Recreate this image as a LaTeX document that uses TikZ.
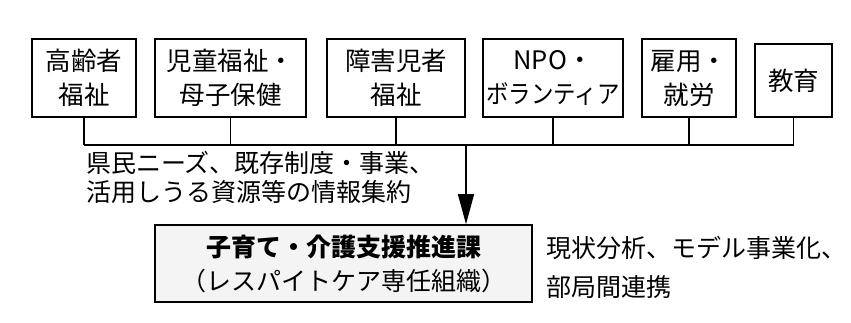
\documentclass[tikz,border=0pt]{standalone}
\usepackage{fontspec}
\setmainfont{Noto Sans CJK JP}
\usetikzlibrary{arrows.meta}
\begin{document}
\begin{tikzpicture}[x=1pt,y=-1pt,
  orgbox/.style={draw,line width=1.6pt,inner sep=0pt,minimum height=78pt,align=center,
    font=\fontsize{25.5}{34}\selectfont},
  wire/.style={line width=1.3pt},
  lbl/.style={anchor=west,inner sep=0pt,font=\fontsize{25}{30}\selectfont}]
\useasboundingbox (0,0) rectangle (851,322);
\node[orgbox,minimum width=104pt] (b1) at (84,78) {高齢者\\福祉};
\node[orgbox,minimum width=151pt] (b2) at (230.5,78) {児童福祉・\\母子保健};
\node[orgbox,minimum width=138pt] (b3) at (396,78) {障害児者\\福祉};
\node[orgbox,minimum width=140pt] (b4) at (553,78) {NPO・\\\scalebox{0.88}[1]{ボランティア}};
\node[orgbox,minimum width=94pt] (b5) at (689,78) {雇用・\\就労};
\node[orgbox,minimum width=77pt,minimum height=73pt] (b6) at (793.5,80.5) {教育};
\coordinate (bus) at (466,145);
\foreach \b in {b1,b2,b3,b4,b5,b6}{\draw[wire] (\b.south) -- (\b.south |- bus);}
\draw[wire] (b1.south |- bus) -- (b6.south |- bus);
\node[draw,line width=1.6pt,fill=gray!9,minimum width=377pt,minimum height=77pt,inner sep=0pt,
  align=center,font=\fontsize{25}{34}\selectfont] (main) at (343.5,263.5)
  {\textbf{子育て・介護支援推進課}\\（レスパイトケア専任組織）};
\draw[wire,-{Triangle[length=30pt,width=16pt]}] (bus) -- (bus |- main.north);
\node[lbl] (t1) at (86,163) {県民ニーズ、既存制度・事業、};
\node[lbl] (t2) at (86,192) {活用しうる資源等の情報集約};
\node[lbl] (t3) at (546,248) {現状分析、モデル事業化、};
\node[lbl] (t4) at (546,287) {部局間連携};
\end{tikzpicture}
\end{document}
